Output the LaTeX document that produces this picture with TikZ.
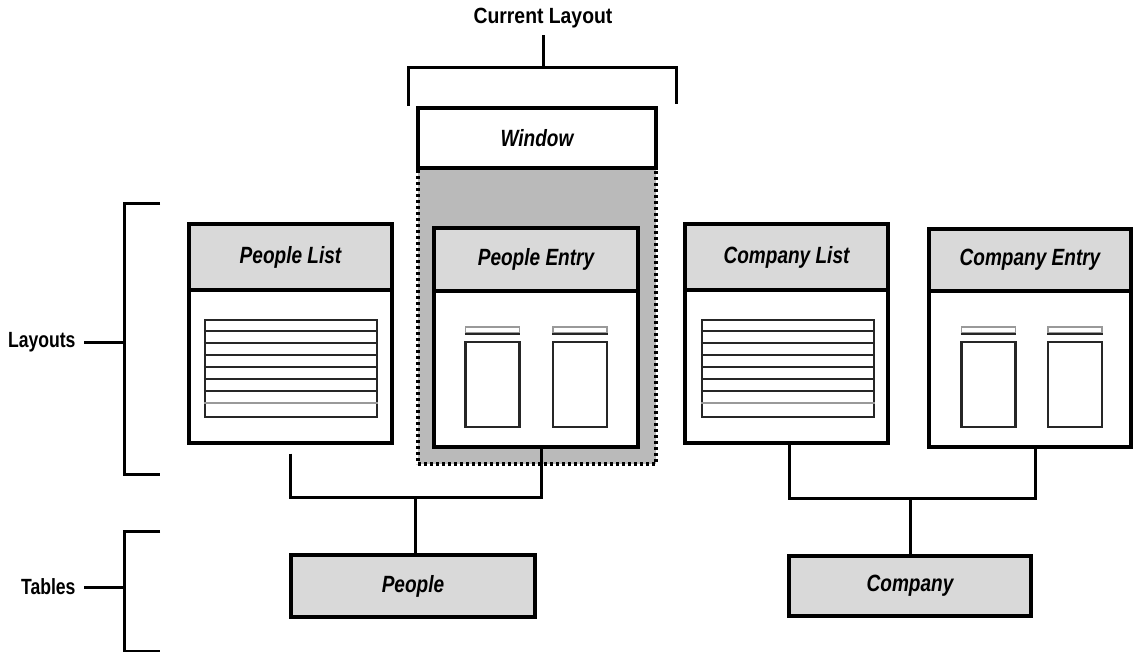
\documentclass[tikz,border=0pt]{standalone}
\usepackage{fontspec}
\setmainfont{Liberation Sans}
\newfontfamily\narrowfont[FakeStretch=0.81]{Liberation Sans}
\newfontfamily\labelfont[FakeStretch=0.8]{Liberation Sans}
\newfontfamily\topfont[FakeStretch=0.88]{Liberation Sans}

\begin{document}
\begin{tikzpicture}[x=1pt, y=-1pt, line width=3pt,
  frame/.style = {draw, line width=3.2pt, fill=white, inner sep=0pt},
  head/.style = {draw, line width=3.2pt, fill=black!15, inner sep=0pt, anchor=north, font=\narrowfont\bfseries\itshape\fontsize{23.5}{28}\selectfont},
  tbl/.style = {draw, line width=3.2pt, fill=black!15, inner sep=0pt, font=\narrowfont\bfseries\itshape\fontsize{23.5}{28}\selectfont},
  rows/.style = {draw, line width=2.2pt, draw=black!85, fill=white, minimum width=172pt, minimum height=97pt, inner sep=0pt},
  field/.style = {draw, line width=2.2pt, draw=black!85, minimum width=54pt, minimum height=85pt, inner sep=0pt},
  bar/.style = {draw, line width=1.4pt, draw=black!40, minimum width=54pt, minimum height=6pt, inner sep=0pt},
  side/.style = {inner sep=0pt, anchor=east, font=\labelfont\bfseries\fontsize{22}{26}\selectfont},
  wire/.style = {line width=3pt}]
\useasboundingbox (0,0) rectangle (1134,652);

\node[draw, line width=3.4pt, dash pattern=on 3pt off 3pt, fill=black!27, minimum width=238pt, minimum height=296pt, inner sep=0pt] (current) at (537,316) {};
\node[frame, minimum width=238pt, minimum height=60pt, font=\narrowfont\bfseries\itshape\fontsize{23.5}{28}\selectfont] (window) at (537,138) {Window};

\node[frame, minimum width=203pt, minimum height=219pt] (plist) at (290.5,333.5) {};
\node[head, minimum width=203pt, minimum height=66pt] (plisth) at (plist.north) {People List};
\node[frame, minimum width=204pt, minimum height=219pt] (pentry) at (536,337.5) {};
\node[head, minimum width=204pt, minimum height=63pt] (pentryh) at (pentry.north) {People Entry};
\node[frame, minimum width=203pt, minimum height=219pt] (clist) at (786.5,333.5) {};
\node[head, minimum width=203pt, minimum height=66pt] (clisth) at (clist.north) {Company List};
\node[frame, minimum width=202pt, minimum height=218pt] (centry) at (1030,338) {};
\node[head, minimum width=202pt, minimum height=62pt] (centryh) at (centry.north) {Company Entry};

\node[rows] (prows) at (291,368.5) {};
\node[rows] (crows) at (788,368.5) {};
\foreach \r in {prows,crows}
  \foreach \i in {1,...,6}
    \draw[line width=2.2pt, black!85] ([yshift=-12*\i pt]\r.north west) -- ([yshift=-12*\i pt]\r.north east);
\draw[line width=1.4pt, black!40] ([yshift=-84pt]prows.north west) -- ([yshift=-84pt]prows.north east);
\draw[line width=1.4pt, black!40] ([yshift=-84pt]crows.north west) -- ([yshift=-84pt]crows.north east);

\foreach \x [count=\n] in {492.5,580,988.5,1075} {
  \node[field] (f\n) at (\x,384.5) {};
  \node[bar] (b\n) at (\x,330) {};
  \draw[line width=2.2pt, black!85] (b\n.south west) -- (b\n.south east);
}

\node[tbl, minimum width=244pt, minimum height=62pt] (people) at (413,586) {People};
\node[tbl, minimum width=242pt, minimum height=60pt] (company) at (910,586) {Company};

\coordinate (pj) at (415,497);
\coordinate (cj) at (910,498);
\draw[wire] ([yshift=-9pt]plist.south) |- (pj) -| ([xshift=5pt]pentry.south);
\draw[wire] (pj) -- (pj |- people.north);
\draw[wire] ([xshift=2.5pt]clist.south) |- (cj) -| ([xshift=5pt]centry.south);
\draw[wire] (cj) -- (company.north);

\node[inner sep=0pt, font=\topfont\bfseries\fontsize{22}{26}\selectfont] (currentlbl) at (543,18) {Current Layout};
\draw[wire] ([yshift=-6pt]currentlbl.south) -- (543,68);
\draw[wire] (408,106) -- (408,68) -- (676,68) -- (676,104);

\node[side] (layouts) at (77,342) {Layouts};
\draw[wire] (160,204) -- (124,204) -- (124,474) -- (160,474);
\draw[wire] ([xshift=7pt]layouts.east) -- (124,342);

\node[side] (tables) at (77,587) {Tables};
\draw[wire] (160,531) -- (124,531) -- (124,651) -- (160,651);
\draw[wire] ([xshift=7pt]tables.east) -- (124,587);
\end{tikzpicture}
\end{document}
